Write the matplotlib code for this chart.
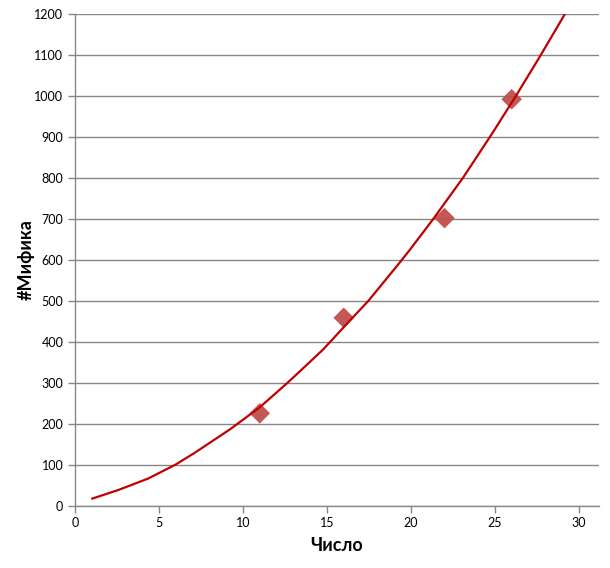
import numpy as np
from matplotlib import pyplot as plt

# measured points
x_pts = [11, 16, 22, 26]
y_pts = [226, 459, 702, 992]

# trend line
trend_x = [1.03, 2.58, 4.36, 5.99, 7.1, 9.23, 11.01, 12.64, 13.35, 14.78,
           16.27, 17.46, 19.3, 19.94, 21.33, 23.11, 24.7, 25.0, 26.25, 27.72, 29.17]
trend_y = [18, 39, 67, 101, 129, 187, 241, 300, 327, 382,
           448, 500, 592, 625, 700, 801, 900, 919, 1000, 1099, 1200]

x_ticks = [0, 5, 10, 15, 20, 25, 30]
y_ticks = list(range(0, 1201, 100))

plt.rcParams['font.family'] = ['Lato', 'DejaVu Sans']

fig = plt.figure(figsize=(6.1, 5.68), dpi=100)
ax = fig.add_axes([0.1230, 0.1092, 0.8590, 0.8662])

ax.scatter(x_pts, y_pts, marker='D', s=110, color='#C0504D', alpha=0.95,
           edgecolors='none', zorder=2)
ax.plot(trend_x, trend_y, color='#C00000', lw=1.6, zorder=3)

ax.set_xlim(0, 31.2)
ax.set_ylim(0, 1200)
ax.set_xticks(x_ticks)
ax.set_yticks(y_ticks)

ax.grid(axis='y', color='#878787', lw=1)
ax.set_axisbelow(True)
for s in ['top', 'right']:
    ax.spines[s].set_visible(False)
for s in ['left', 'bottom']:
    ax.spines[s].set_color('#878787')
    ax.spines[s].set_linewidth(1)
ax.tick_params(colors='#878787', length=5, width=1, labelsize=9, labelcolor='black')
ax.tick_params(axis='x', pad=3)

ax.set_xlabel('Число', fontsize=13, fontweight='bold', labelpad=6)
ax.set_ylabel('#Мифика', fontsize=13, fontweight='bold', labelpad=0)

plt.savefig('out.png')
